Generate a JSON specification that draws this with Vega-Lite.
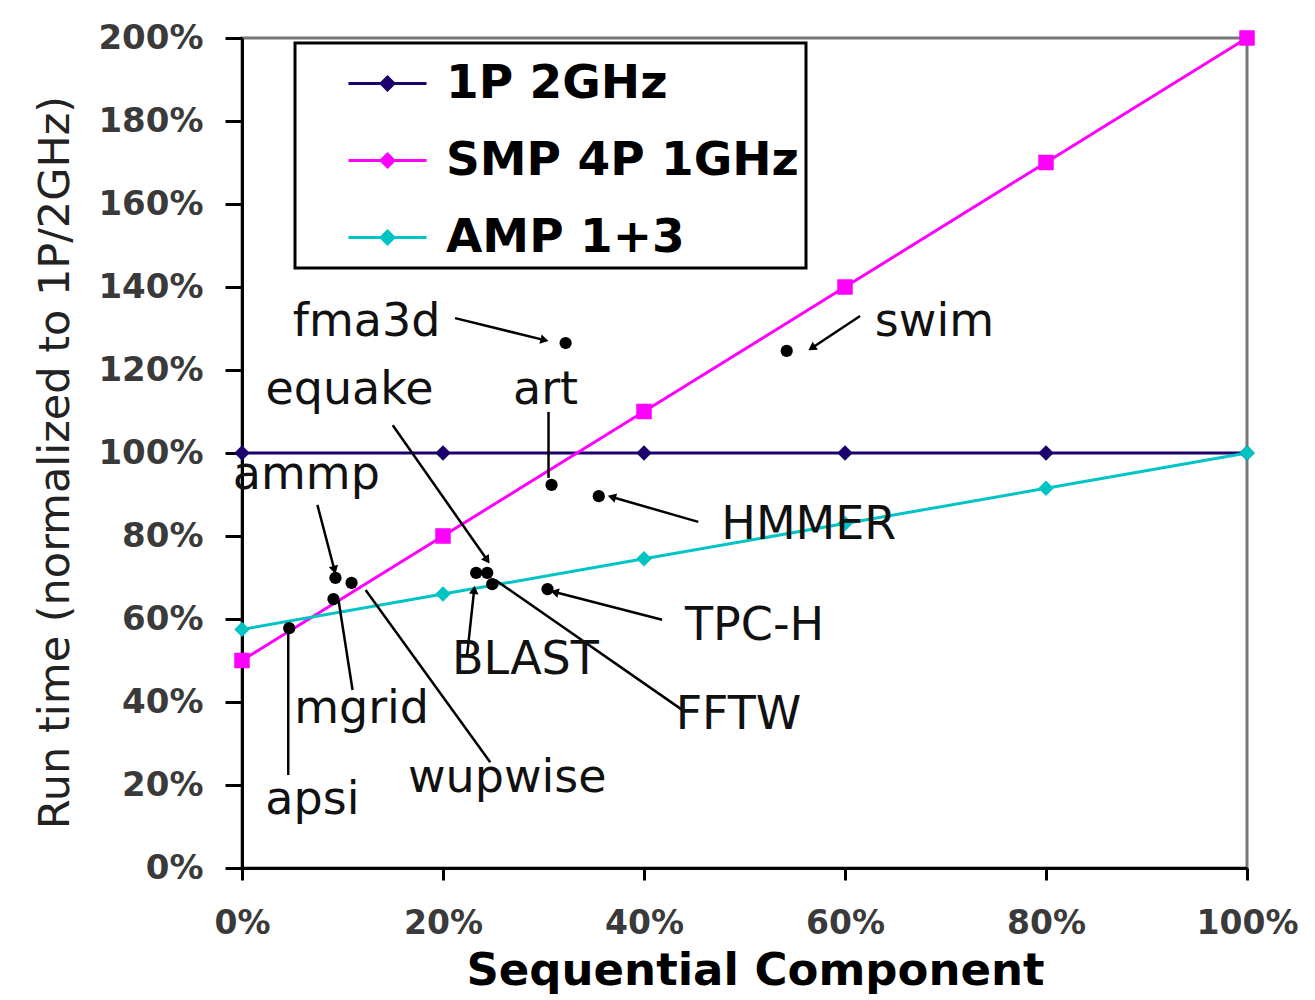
{
  "$schema": "https://vega.github.io/schema/vega-lite/v6.json",
  "width": 1005,
  "height": 830,
  "autosize": {"type": "none"},
  "padding": {"left": 242, "top": 38, "right": 68, "bottom": 132},
  "background": "white",
  "config": {
    "view": {"stroke": "#777777", "strokeWidth": 3},
    "axis": {"grid": false},
    "legend": {"strokeWidth": 3}
  },
  "datasets": {
    "series": [
      {"series": "1P 2GHz", "x": 0, "y": 100},
      {"series": "1P 2GHz", "x": 20, "y": 100},
      {"series": "1P 2GHz", "x": 40, "y": 100},
      {"series": "1P 2GHz", "x": 60, "y": 100},
      {"series": "1P 2GHz", "x": 80, "y": 100},
      {"series": "1P 2GHz", "x": 100, "y": 100},
      {"series": "SMP 4P 1GHz", "x": 0, "y": 50},
      {"series": "SMP 4P 1GHz", "x": 20, "y": 80},
      {"series": "SMP 4P 1GHz", "x": 40, "y": 110},
      {"series": "SMP 4P 1GHz", "x": 60, "y": 140},
      {"series": "SMP 4P 1GHz", "x": 80, "y": 170},
      {"series": "SMP 4P 1GHz", "x": 100, "y": 200},
      {"series": "AMP 1+3", "x": 0, "y": 57.5},
      {"series": "AMP 1+3", "x": 20, "y": 66},
      {"series": "AMP 1+3", "x": 40, "y": 74.5},
      {"series": "AMP 1+3", "x": 60, "y": 83},
      {"series": "AMP 1+3", "x": 80, "y": 91.5},
      {"series": "AMP 1+3", "x": 100, "y": 100}
    ],
    "bench": [
      {"name": "fma3d", "x": 32.2, "y": 126.5, "lx": 12.4, "ly": 131.6, "x1": 21.2, "y1": 132.5, "x2": 30.1, "y2": 127.2},
      {"name": "swim", "x": 54.2, "y": 124.6, "lx": 68.9, "ly": 131.6, "x1": 61.5, "y1": 133.0, "x2": 56.7, "y2": 125.3},
      {"name": "equake", "x": 24.4, "y": 71.1, "lx": 10.7, "ly": 115.2, "x1": 15.0, "y1": 106.7, "x2": 24.4, "y2": 74.2},
      {"name": "art", "x": 30.8, "y": 92.3, "lx": 30.2, "ly": 115.2, "x1": 30.5, "y1": 109.9, "x2": 30.5, "y2": 94.0},
      {"name": "ammp", "x": 9.3, "y": 69.9, "lx": 6.4, "ly": 94.7, "x1": 7.5, "y1": 87.5, "x2": 9.2, "y2": 71.8},
      {"name": "HMMER", "x": 35.5, "y": 89.6, "lx": 56.4, "ly": 82.7, "x1": 45.4, "y1": 83.4, "x2": 36.8, "y2": 89.4},
      {"name": "TPC-H", "x": 30.4, "y": 67.2, "lx": 51.0, "ly": 58.3, "x1": 41.8, "y1": 59.8, "x2": 31.1, "y2": 66.5},
      {"name": "BLAST", "x": 23.3, "y": 71.1, "lx": 28.2, "ly": 50.1, "x1": 22.4, "y1": 51.3, "x2": 23.1, "y2": 67.0},
      {"name": "FFTW", "x": 24.9, "y": 68.4, "lx": 49.4, "ly": 36.9, "x1": 43.8, "y1": 38.1, "x2": 25.2, "y2": 69.4},
      {"name": "mgrid", "x": 9.1, "y": 64.8, "lx": 11.9, "ly": 38.3, "x1": 11.0, "y1": 42.9, "x2": 9.6, "y2": 64.6},
      {"name": "wupwise", "x": 10.9, "y": 68.7, "lx": 26.4, "ly": 21.7, "x1": 24.7, "y1": 25.5, "x2": 12.3, "y2": 67.0},
      {"name": "apsi", "x": 4.7, "y": 57.8, "lx": 7.0, "ly": 16.4, "x1": 4.6, "y1": 22.4, "x2": 4.6, "y2": 57.3}
    ]
  },
  "layer": [
    {
      "data": {"name": "series"},
      "mark": {"type": "line", "strokeWidth": 3},
      "encoding": {
        "x": {
          "field": "x", "type": "quantitative",
          "scale": {"domain": [0, 100], "nice": false, "zero": false},
          "axis": {
            "values": [0, 20, 40, 60, 80, 100],
            "labelExpr": "datum.value + '%'",
            "title": "Sequential Component",
            "domainColor": "black", "domainWidth": 3,
            "tickColor": "black", "tickWidth": 3, "tickSize": 12,
            "labelFont": "DejaVu Sans", "labelFontWeight": "bold", "labelFontSize": 33,
            "labelColor": "#3a3a3a", "labelPadding": 27, "labelFlush": false, "labelOverlap": false,
            "titleFont": "DejaVu Sans", "titleFontWeight": "bold", "titleFontSize": 45,
            "titleColor": "black", "titleX": 513, "titleY": 102, "titleBaseline": "middle", "titleAlign": "center"
          }
        },
        "y": {
          "field": "y", "type": "quantitative",
          "scale": {"domain": [0, 200], "nice": false},
          "axis": {
            "values": [0, 20, 40, 60, 80, 100, 120, 140, 160, 180, 200],
            "labelExpr": "datum.value + '%'",
            "title": "Run time (normalized to 1P/2GHz)",
            "domainColor": "black", "domainWidth": 3,
            "tickColor": "black", "tickWidth": 3, "tickSize": 17,
            "labelFont": "DejaVu Sans", "labelFontWeight": "bold", "labelFontSize": 34,
            "labelColor": "#3a3a3a", "labelPadding": 22, "labelFlush": false, "labelOverlap": false,
            "titleFont": "DejaVu Sans", "titleFontWeight": "normal", "titleFontSize": 43,
            "titleColor": "#222222", "titleX": -187, "titleY": 424, "titleAngle": -90,
            "titleBaseline": "middle", "titleAlign": "center"
          }
        },
        "color": {
          "field": "series", "type": "nominal",
          "scale": {"domain": ["1P 2GHz", "SMP 4P 1GHz", "AMP 1+3"], "range": ["#1c006b", "#ff00ff", "#00c4c4"]},
          "legend": {
            "title": null, "orient": "none", "legendX": 53, "legendY": 5,
            "padding": 7, "strokeColor": "black", "fillColor": "white",
            "symbolType": "M-1.22,0H1.22M0,-0.2L0.2,0L0,0.2L-0.2,0Z",
            "symbolSize": 4096, "symbolStrokeWidth": 3, "symbolOffset": 52, "labelOffset": 25,
            "labelFont": "DejaVu Sans", "labelFontWeight": "bold", "labelFontSize": 47,
            "labelColor": "black", "labelLimit": 0, "rowPadding": 20,
            "labelExpr": "datum.label + '\u2003\u2003'"
          }
        }
      }
    },
    {
      "data": {"name": "series"},
      "transform": [{"filter": "datum.series !== 'SMP 4P 1GHz'"}],
      "mark": {"type": "point", "shape": "diamond", "filled": true, "opacity": 1, "size": 240},
      "encoding": {
        "x": {"field": "x", "type": "quantitative"},
        "y": {"field": "y", "type": "quantitative"},
        "color": {"field": "series", "type": "nominal", "legend": null}
      }
    },
    {
      "data": {"name": "series"},
      "transform": [{"filter": "datum.series === 'SMP 4P 1GHz'"}],
      "mark": {"type": "point", "shape": "square", "filled": true, "opacity": 1, "size": 240},
      "encoding": {
        "x": {"field": "x", "type": "quantitative"},
        "y": {"field": "y", "type": "quantitative"},
        "color": {"field": "series", "type": "nominal", "legend": null}
      }
    },
    {
      "data": {"name": "bench"},
      "mark": {"type": "rule", "color": "black", "strokeWidth": 2.5},
      "encoding": {
        "x": {"field": "x1", "type": "quantitative"},
        "y": {"field": "y1", "type": "quantitative"},
        "x2": {"field": "x2"},
        "y2": {"field": "y2"}
      }
    },
    {
      "data": {"name": "bench"},
      "transform": [
        {"filter": "indexof(['fma3d','swim','equake','ammp','HMMER','TPC-H','BLAST'], datum.name) >= 0"},
        {"calculate": "atan2((datum.x2 - datum.x1) * 10.05, (datum.y2 - datum.y1) * 4.15) * 180 / PI", "as": "ang"}
      ],
      "mark": {"type": "point", "shape": "triangle-up", "filled": true, "color": "black", "opacity": 1, "size": 90},
      "encoding": {
        "x": {"field": "x2", "type": "quantitative"},
        "y": {"field": "y2", "type": "quantitative"},
        "angle": {"field": "ang", "type": "quantitative", "scale": null}
      }
    },
    {
      "data": {"name": "bench"},
      "mark": {"type": "point", "shape": "circle", "filled": true, "color": "black", "opacity": 1, "size": 150},
      "encoding": {
        "x": {"field": "x", "type": "quantitative"},
        "y": {"field": "y", "type": "quantitative"}
      }
    },
    {
      "data": {"name": "bench"},
      "mark": {"type": "text", "font": "DejaVu Sans", "fontSize": 46, "color": "#111111", "align": "center", "baseline": "middle"},
      "encoding": {
        "x": {"field": "lx", "type": "quantitative"},
        "y": {"field": "ly", "type": "quantitative"},
        "text": {"field": "name", "type": "nominal"}
      }
    }
  ]
}
